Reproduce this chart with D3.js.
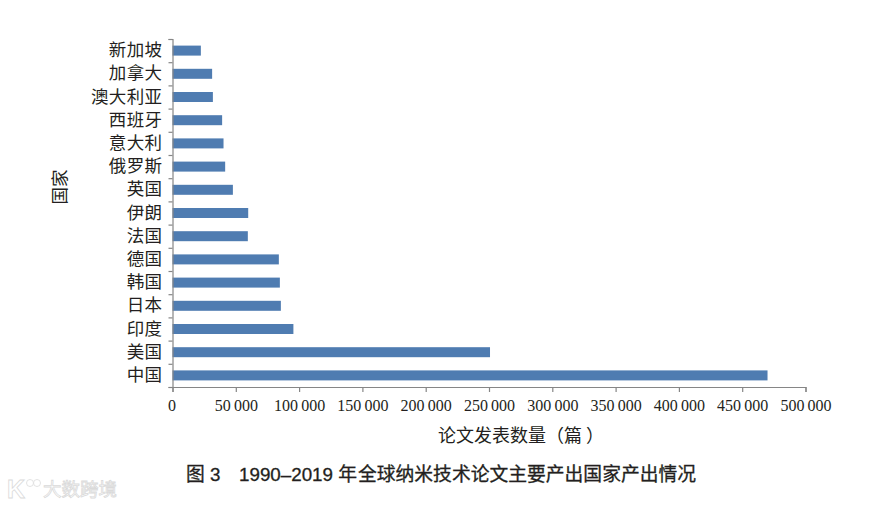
<!DOCTYPE html>
<html>
<head>
<meta charset="utf-8">
<script src="https://cdn.jsdelivr.net/npm/d3@7"></script>
<style>
  body { margin: 0; background: #fff; }
  svg { display: block; }
  .serif { font-family: "Liberation Serif", "Noto Sans CJK SC", serif; }
  .axis path, .axis line { stroke: #868686; stroke-width: 1.2px; fill: none; }
  .axis text { fill: #231f20; }
</style>
</head>
<body>
<div id="chart"></div>
<script>
var countries = ["新加坡", "加拿大", "澳大利亚", "西班牙", "意大利", "俄罗斯", "英国", "伊朗", "法国", "德国", "韩国", "日本", "印度", "美国", "中国"];
var papers = [22400, 31300, 31900, 39200, 40300, 41600, 47700, 59800, 59500, 84000, 84800, 85600, 95500, 250800, 470000];
var xTicks = [0, 50000, 100000, 150000, 200000, 250000, 300000, 350000, 400000, 450000, 500000];

var svg = d3.select("#chart").append("svg")
    .attr("width", 883)
    .attr("height", 506);

var x = d3.scaleLinear().domain([0, 500000]).range([172.5, 805.5]);
var y = d3.scaleBand().domain(countries).range([39, 387]);
var barHeight = 10;

svg.append("g")
    .selectAll("rect")
    .data(countries)
    .enter().append("rect")
    .attr("x", x(0))
    .attr("y", function(d) { return y(d) + (y.bandwidth() - barHeight) / 2; })
    .attr("width", function(d, i) { return x(papers[i]) - x(0); })
    .attr("height", barHeight)
    .style("fill", "#4f7cb1");

// x axis, thin space in the thousands like the original
var xAxis = d3.axisBottom(x)
    .tickValues(xTicks)
    .tickSize(5)
    .tickSizeOuter(5)
    .tickPadding(8)
    .tickFormat(function(d) { return d === 0 ? "0" : d3.format(",")(d).replace(",", "\u2009"); });

var xg = svg.append("g")
    .attr("class", "axis serif")
    .attr("transform", "translate(0,387)")
    .call(xAxis);
xg.selectAll("text").style("font-size", "16px");
xg.selectAll("text").filter(function(d) { return d === 0; }).attr("dx", -1);

// y ticks sit between the categories
var yEdges = d3.scaleLinear().domain([0, countries.length]).range([39, 387]);
var yAxis = d3.axisLeft(yEdges)
    .ticks(countries.length)
    .tickSize(4)
    .tickSizeOuter(4)
    .tickFormat("");
svg.append("g")
    .attr("class", "axis")
    .attr("transform", "translate(172.5,0)")
    .call(yAxis);

var labels = d3.axisLeft(y).tickSize(0).tickPadding(10);
var lg = svg.append("g")
    .attr("class", "axis serif")
    .attr("transform", "translate(172.5,0)")
    .call(labels);
lg.select("path").remove();
lg.selectAll("text").style("font-size", "17.5px").style("letter-spacing", "0.4px");

svg.append("text")
    .attr("class", "serif")
    .attr("transform", "translate(66,187) rotate(-90)")
    .attr("text-anchor", "middle")
    .style("font-size", "17.5px")
    .style("fill", "#231f20")
    .text("国家");

var xTitle = svg.append("text")
    .attr("class", "serif")
    .attr("x", 438)
    .attr("y", 442)
    .style("font-size", "18px")
    .style("fill", "#231f20");
xTitle.append("tspan").text("论文发表数量（篇");
xTitle.append("tspan").attr("dx", 4).text("）");

var caption = svg.append("text")
    .attr("y", 481)
    .style("font-family", "'Liberation Sans', 'Noto Sans CJK SC', sans-serif")
    .style("font-size", "18.8px")
    .style("fill", "#231f20")
    .style("stroke", "#231f20")
    .style("stroke-width", 0.3);
caption.append("tspan").attr("x", 186).text("图 3");
caption.append("tspan").attr("x", 239).text("1990–2019 年");
caption.append("tspan").attr("x", 358).text("全球纳米技术论文主要产出国家产出情况");

// watermark, lower left
var mark = svg.append("g")
    .style("fill", "#fff")
    .style("stroke", "#dadada")
    .style("stroke-width", 0.8);
mark.append("text")
    .attr("x", 7)
    .attr("y", 498)
    .style("font-family", "'Liberation Sans', sans-serif")
    .style("font-size", "25px")
    .style("font-weight", 700)
    .text("K");
mark.append("circle").attr("cx", 30).attr("cy", 483).attr("r", 3.5);
mark.append("circle").attr("cx", 37).attr("cy", 483).attr("r", 3.5);
mark.append("text")
    .attr("x", 43)
    .attr("y", 496)
    .style("font-family", "'Noto Sans CJK SC', sans-serif")
    .style("font-size", "18.5px")
    .text("大数跨境");
</script>
</body>
</html>
